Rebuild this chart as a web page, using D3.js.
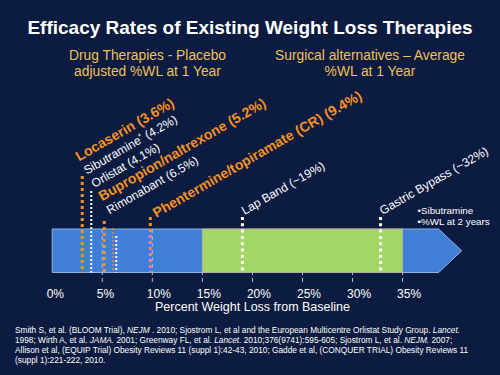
<!DOCTYPE html>
<html>
<head>
<meta charset="utf-8">
<script src="https://cdn.jsdelivr.net/npm/d3@7"></script>
<style>
  html, body { margin: 0; padding: 0; background: #0c1b40; }
  svg { display: block; font-family: "Liberation Sans", Arial, sans-serif; }
</style>
</head>
<body>
<div id="chart"></div>
<script>
const axisTicks = [0, 5, 10, 15, 20, 25, 30, 35];

// drug therapies: label value (placebo adjusted %WL) and where the dotted line sits
const drugNames = ["Locaserin", "Sibutramine*", "Orlistat", "Bupropion/naltrexone", "Rimonabant", "Phentermine/topiramate (CR)"];
const drugLabelPct = ["3.6%", "4.2%", "4.1%", "5.2%", "6.5%", "9.4%"];
const drugLinePos = [3.0, 3.9, null, 5.2, 6.4, 9.8];
const drugIsNew = [true, false, false, true, false, true];
const faintLinePos = [6.05];

// surgical alternatives
const surgeryNames = ["Lap Band", "Gastric Bypass"];
const surgeryLabelPct = ["~19%", "~32%"];
const surgeryLinePos = [19.0, 32.8];

const surgicalRange = [15, 35];
const arrowBody = 38.6;
const arrowTip = 40.9;

const noteLines = ["\u2022Sibutramine", "\u2022%WL at 2 years"];

const refLines = [
  [["Smith S, et al. (BLOOM Trial), ", 0], ["NEJM", 1], [" . 2010;  Sjostrom L, et al and the European Multicentre Orlistat Study Group. ", 0], ["Lancet.", 1]],
  [["1998;  Wirth A, et al. ", 0], ["JAMA.", 1], [" 2001; Greenway FL, et al. ", 0], ["Lancet.", 1], [" 2010;376(9741):595-605; Sjostrom L, et al. ", 0], ["NEJM.", 1], [" 2007;", 0]],
  [["Allison et al, (EQUIP Trial) Obesity Reviews 11 (suppl 1):42-43, 2010; Gadde et al, (CONQUER TRIAL) Obesity Reviews 11", 0]],
  [["(suppl 1):221-222, 2010.", 0]]
];

const width = 500;
const height = 375;
const orange = "#f7911f";
const gold = "#f0c05a";

const svg = d3
  .select("#chart")
  .append("svg")
  .attr("width", width)
  .attr("height", height);

svg.append("rect").attr("width", width).attr("height", height).attr("fill", "#0c1b40");

svg
  .append("text")
  .attr("x", 250)
  .attr("y", 34)
  .attr("text-anchor", "middle")
  .attr("fill", "#ffffff")
  .style("font-size", "19px")
  .style("font-weight", "bold")
  .text("Efficacy Rates of Existing Weight Loss Therapies");

const headers = [
  { x: 147.5, lines: ["Drug Therapies - Placebo", "adjusted %WL at 1 Year"] },
  { x: 370, lines: ["Surgical alternatives \u2013 Average", "%WL at 1 Year"] },
];
headers.forEach((h) => {
  svg
    .append("text")
    .attr("text-anchor", "middle")
    .attr("fill", gold)
    .style("font-size", "13.8px")
    .selectAll("tspan")
    .data(h.lines)
    .join("tspan")
    .attr("x", h.x)
    .attr("y", (d, i) => 59.5 + i * 16.5)
    .text((d) => d);
});

const x = d3.scaleLinear().domain([0, 35]).range([52.2, 402.6]);
const barTop = 229;
const barBottom = 272.5;
const barMid = (barTop + barBottom) / 2;

// blue arrow
svg
  .append("path")
  .attr(
    "d",
    d3.line()([
      [x(0), barTop],
      [x(arrowBody), barTop],
      [x(arrowTip), barMid],
      [x(arrowBody), barBottom],
      [x(0), barBottom],
    ]) + "Z"
  )
  .attr("fill", "#3f7fd8")
  .attr("stroke", "#8fb3e3")
  .attr("stroke-width", 1);

// grid / tick lines
svg
  .append("g")
  .selectAll("line")
  .data(axisTicks.filter((d) => d > 0))
  .join("line")
  .attr("x1", (d) => x(d))
  .attr("x2", (d) => x(d))
  .attr("y1", barTop)
  .attr("y2", 284.5)
  .attr("stroke", "#a9bfdc")
  .attr("stroke-width", 1)
  .attr("stroke-dasharray", "4,3");

// surgical band
svg
  .append("rect")
  .attr("x", x(surgicalRange[0]))
  .attr("y", barTop)
  .attr("width", x(surgicalRange[1]) - x(surgicalRange[0]))
  .attr("height", barBottom - barTop)
  .attr("fill", "#a3d665")
  .attr("stroke", "#c4a89c")
  .attr("stroke-width", 0.8);

svg
  .append("g")
  .selectAll("text")
  .data(axisTicks)
  .join("text")
  .attr("x", (d) => x(d) - 5.5)
  .attr("y", 297.5)
  .attr("fill", "#ffffff")
  .style("font-size", "12px")
  .text((d) => d + "%");

svg
  .append("text")
  .attr("x", 252.5)
  .attr("y", 311)
  .attr("text-anchor", "middle")
  .attr("fill", "#ffffff")
  .style("font-size", "12.5px")
  .text("Percent Weight Loss from Baseline");

// marker lines
const drugs = drugNames.map((name, i) => ({
  name,
  pct: drugLabelPct[i],
  pos: drugLinePos[i],
  isNew: drugIsNew[i],
  idx: i,
}));
const stacked = drugs.slice(0, 5);
const lineTop = (d) => (d.idx < 5 ? 176 + 15 * d.idx : 217);

svg
  .append("g")
  .selectAll("line")
  .data(faintLinePos)
  .join("line")
  .attr("x1", (d) => x(d))
  .attr("x2", (d) => x(d))
  .attr("y1", barTop - 1)
  .attr("y2", barBottom)
  .attr("stroke", orange)
  .attr("stroke-opacity", 0.8)
  .attr("stroke-width", 1.5)
  .attr("stroke-dasharray", "2,2");

svg
  .append("g")
  .selectAll("line")
  .data(drugs.filter((d) => d.pos !== null))
  .join("line")
  .attr("x1", (d) => x(d.pos))
  .attr("x2", (d) => x(d.pos))
  .attr("y1", (d) => lineTop(d))
  .attr("y2", barBottom)
  .attr("stroke", (d) => (d.isNew ? orange : "#ffffff"))
  .attr("stroke-width", (d) => (d.isNew ? 3 : 2))
  .attr("stroke-dasharray", (d) => (d.isNew ? "3,3" : "2,2"));

const surgeries = surgeryNames.map((name, i) => ({
  name,
  pct: surgeryLabelPct[i],
  pos: surgeryLinePos[i],
}));

svg
  .append("g")
  .selectAll("line")
  .data(surgeries)
  .join("line")
  .attr("x1", (d) => x(d.pos))
  .attr("x2", (d) => x(d.pos))
  .attr("y1", 217)
  .attr("y2", barBottom)
  .attr("stroke", "#ffffff")
  .attr("stroke-width", 3)
  .attr("stroke-dasharray", "3,3.3");

// labels
function writeLabel(sel, d) {
  sel
    .attr("fill", d.isNew ? orange : "#ffffff")
    .style("font-size", d.isNew ? "14px" : "12px")
    .style("font-weight", d.isNew ? "bold" : "normal");
  const star = d.name.endsWith("*");
  sel.append("tspan").text(star ? d.name.slice(0, -1) : d.name);
  if (star) {
    sel.append("tspan").attr("dy", -4).style("font-size", "8px").text("*");
    sel.append("tspan").attr("dy", 4).text(" (" + d.pct + ")");
  } else {
    sel.append("tspan").text(" (" + d.pct + ")");
  }
}

const stack = svg.append("g").attr("transform", "translate(79,161.5) rotate(-30)");
stacked.forEach((d, i) => {
  stack
    .append("text")
    .attr("x", 0)
    .attr("y", i * 15.3)
    .call(writeLabel, d);
});

const phen = drugs[5];
svg
  .append("text")
  .attr("transform", `translate(${x(phen.pos) + 6},${lineTop(phen) + 1}) rotate(-30)`)
  .call(writeLabel, phen);

surgeries.forEach((d) => {
  svg
    .append("text")
    .attr("transform", `translate(${x(d.pos) + 2},${215}) rotate(-30)`)
    .call(writeLabel, d);
});

svg
  .append("g")
  .selectAll("text")
  .data(noteLines)
  .join("text")
  .attr("x", 417.5)
  .attr("y", (d, i) => 213.5 + i * 11.5)
  .attr("fill", "#ffffff")
  .style("font-size", "9.8px")
  .text((d) => d);

// references
const refs = svg
  .append("text")
  .attr("fill", "#ffffff")
  .style("font-size", "8.3px");
refLines.forEach((parts, li) => {
  parts.forEach((p, pi) => {
    const t = refs.append("tspan").text(p[0]);
    if (pi === 0) t.attr("x", 15).attr("y", 332.8 + li * 10);
    if (p[1]) t.style("font-style", "italic");
  });
});
</script>
</body>
</html>
